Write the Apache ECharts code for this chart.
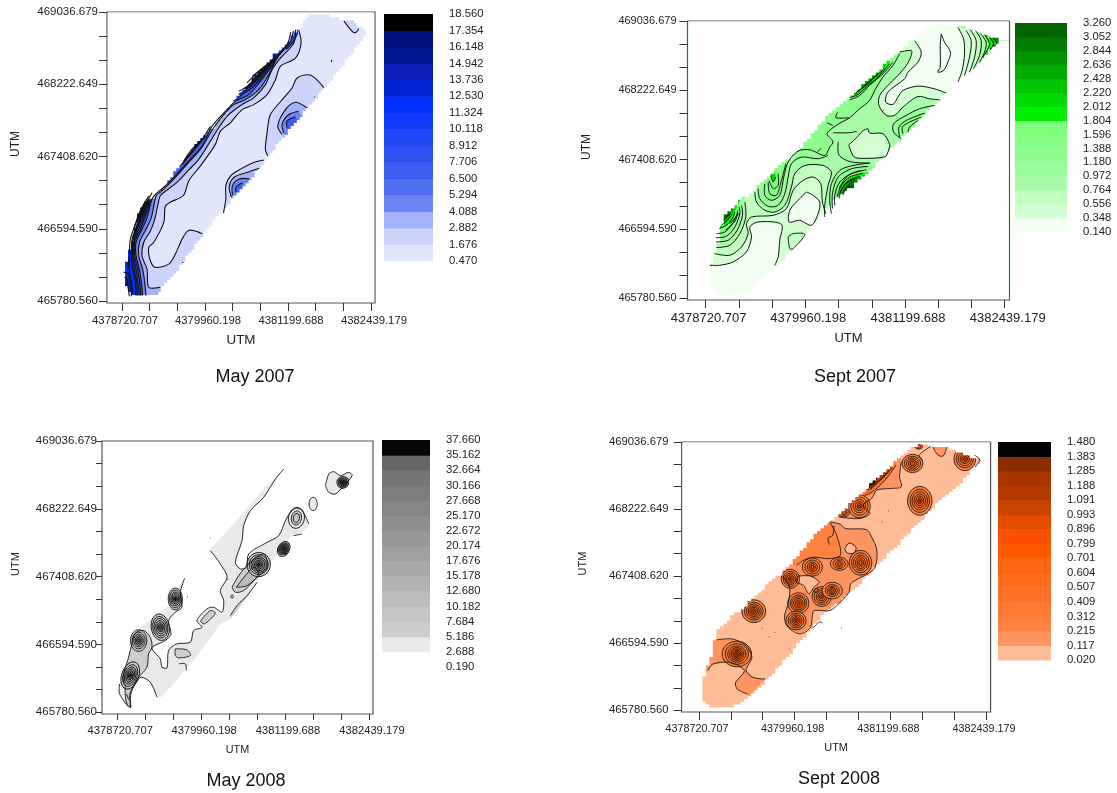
<!DOCTYPE html>
<html><head><meta charset="utf-8">
<style>html,body{margin:0;padding:0;background:#fff}#c{width:1117px;height:793px}</style>
<script src="https://cdn.jsdelivr.net/npm/echarts@6/dist/echarts.min.js"></script>
</head><body><div id="c"></div>
<script>
// Map coordinates: every point below is [metres east, metres north] of the first labelled ticks.
const E0 = 4378720.707, N0 = 465780.56;
const xTicks = [4378720.707,4379133.87,4379547.03,4379960.198,4380373.36,4380786.53,4381199.688,4381612.85,4382026.02,4382439.179];
const xLabels = [4378720.707,4379960.198,4381199.688,4382439.179];
const yTicks = [465780.56,466051.9,466323.24,466594.59,466865.93,467137.28,467408.62,467679.96,467951.31,468222.649,468493.99,468765.34,469036.679];
const yLabels = [465780.56,466594.59,467408.62,468222.649,469036.679];

// Survey outline, upper and lower edges
const edgeUpperWide = [156,31,48,137,35,274,69,411,113,547,178,723,221,958,437,1153,589,1251,740,1408,957,1584,1087,1681,1303,1896,1433,2072,1671,2268,1910,2463,2213,2737,2494,2972,2732,3187,2862,3226,3209,3187,3425,3108,3650,3030];
const edgeLowerWide = [156,31,394,39,567,98,805,293,1087,587,1325,860,1606,1153,1823,1310,2126,1584,2299,1760,2559,1994,2862,2287,3122,2542,3382,2757,3650,3030];
const edgeUpperMay07 = [150,60,100,123,35,217,35,348,75,460,115,591,175,722,215,853,225,965,325,1096,525,1190,650,1302,775,1451,950,1582,1125,1788,1375,1956,1625,2199,1825,2386,2050,2592,2250,2760,2475,2928,2700,3134,2800,3228,3015,3228,3175,3190,3425,3153,3665,3030];
const edgeLowerMay07 = [150,60,500,60,575,142,775,292,975,516,1275,815,1525,1058,1850,1302,2125,1582,2425,1862,2775,2180,3075,2461,3325,2685,3665,3030];

// ---- May 2007
const levelsMay07 = [0.47,1.676,2.882,4.088,5.294,6.5,7.706,8.912,10.118,11.324,12.53,13.736,14.942,16.148,17.354,18.56];
const colorsMay07 = ['#e1e6fb','#ccd4fb','#a4b2fb','#6b85f5','#5070f0','#3f5cf0','#2f50f2','#1f46f5','#0f3cfa','#0030ff','#0024d0','#0a1fb8','#001a94','#00107c','#000000'];
const bandsMay07 = [
 [1,[2639,3055,2674,2905,2590,2737,2365,2644,2291,2494,2166,2326,1967,2213,1793,2157,1618,2008,1469,1914,1394,1765,1170,1522,1000,1358,915,1189,725,1115,647,1071,622,884,473,660,398,604,423,454,498,379,697,416,796,529,900,703,1000,797,1200,759],[1375,703,600,0,-100,0,-100,1150,1200,2100,2700,3300]],
 [1,[2175,1638,2141,1709,2166,1896,2216,2101,2415,2288,2540,2400,2614,2513,2789,2550,2875,2517,3015,2405],[3100,2200,2300,1500]],
 [1,[1515,994,1550,1152,1550,1302,1625,1414,1775,1489,1975,1563,2125,1589],[2150,1400,1600,900]],
 [1,[3315,3153,3450,3030,3500,3030,3535,3067],[3500,3250,3300,3250]],
 [2,[2589,3055,2565,2905,2365,2737,2241,2606,2141,2438,1967,2288,1793,2214,1579,2090,1444,1952,1320,1802,1145,1596,1000,1480,825,1340,575,1190,547,1127,488,921,423,790,323,660,298,510,373,360,398,155,572,155],[572,0,-200,0,-200,1150,1200,2100,2589,3300]],
 [3,[2560,3040,2515,2924,2440,2849,2316,2737,2191,2550,2042,2382,1843,2270,1668,2213,1544,2120,1369,1952,1175,1713,975,1545,775,1376,575,1227,508,1183,438,940,358,809,259,660,249,510,308,360,338,211,358,61],[300,0,-200,0,-200,1200,1200,2150,2560,3300]],
 [5,[2520,3030,2475,2905,2341,2775,2216,2625,2067,2475,1892,2326,1693,2251,1593,2176,1345,1970,1200,1750,1000,1582,800,1414,625,1283,458,1164,373,940,298,809,209,660,209,510,259,360,288,211,308,61],[260,0,-200,0,-200,1200,1200,2200,2520,3300]],
 [7,[423,1153,323,940,259,828,174,660,174,510,209,360,239,211,259,61],[225,0,-200,0,-200,1150,450,1300]],
 [9,[388,1146,288,959,224,847,149,678,139,510,159,360,199,211,209,61],[175,0,-200,0,-200,1150,430,1300]],
 [10,[358,1127,259,977,199,865,124,697,109,529,109,379],[-200,379,-200,1150,420,1300]],
 [10,[25,323,89,315,124,229,139,54],[-200,54,-200,323]],
 [12,[39,267,74,248,89,155,109,54],[-200,54,-200,267]],
 [11,[448,1221,338,1071,259,940,199,809,149,697],[-200,697,-200,1150,500,1300]],
 [12,[398,1183,298,1052,224,921,174,809],[-200,809,-200,1150,500,1300]],
 [14,[348,1127,274,1015,224,940],[-100,940,-100,1150,450,1300]],
 [7,[1320,1970,1195,1821,1071,1709,921,1559],[700,1900,1300,2050]],
 [10,[1245,1858,1145,1765,1021,1652,896,1540],[700,1900,1300,2050]],
 [12,[1220,1839,1095,1727,971,1615,871,1522],[700,1900,1300,2050]],
 [13,[1145,1783,1021,1690,921,1578],[700,1900,1200,2000]],
 [7,[2390,2831,2266,2681,2141,2569,1967,2419,1793,2326,1668,2251],[1600,2700,2400,3000]],
 [10,[2341,2793,2216,2662,2067,2531,1917,2419,1743,2326],[1600,2700,2350,3000]],
 [12,[2291,2756,2166,2644,2017,2531,1867,2419,1743,2363],[1600,2700,2300,3000]],
 [13,[2241,2700,2141,2644,1992,2550,1867,2457],[1600,2700,2250,2950]],
 [14,[2191,2681,2067,2606,1942,2531],[1700,2700,2200,2900]],
 [7,[2625,3022,2550,2910,2450,2835],[2300,2950,2650,3200]],
 [2,[2390,1877,2326,1970,2440,2157,2589,2240,2764,2176],[2850,2000,2500,1750]],
 [3,[2415,1896,2390,1989,2490,2101,2639,2139],[2800,1950,2500,1750]],
 [5,[2465,1952,2465,2027,2589,2075],[2700,1950,2500,1800]],
 [2,[1635,1170,1600,1283,1675,1395,1875,1451,2050,1496],[2050,1300,1700,1050]],
 [3,[1650,1190,1650,1302,1750,1376,1900,1376],[1900,1250,1700,1100]],
 [5,[1700,1227,1700,1283,1800,1332],[1800,1200,1720,1150]]
];
const linesMay07 = [
 [3130,2715,3130,2690],[2870,2300,2880,2298],[900,440,915,430],
 [2280,2720,2140,2610,1990,2490,1840,2390],[2220,2670,2090,2590,1960,2500],
 [1180,1800,1060,1700,950,1590],[330,1040,260,900,200,780],[410,1120,300,980,230,850,160,700],[95,470,105,350,140,220,160,80],
 [440,1150,345,950,280,820,190,665,190,510,232,360,262,211,282,61],[405,1150,305,950,240,838,160,670,155,510,182,360,218,211,232,61]
];
const peaksMay07 = [];

// ---- Sept 2007
const levelsSep07 = [0.14,0.348,0.556,0.764,0.972,1.18,1.388,1.596,1.804,2.012,2.22,2.428,2.636,2.844,3.052,3.26];
const colorsSep07 = ['#f2fff2','#d4ffd4','#c0ffc0','#a8fca8','#98fc98','#8efd8e','#86fe86','#7cff7c','#00f000','#00dc00','#00c400','#00ac00','#009400','#007c00','#006400'];
const bandsSep07 = [
 [2,[612,1247,633,1129,736,1032,860,1012,985,1090,1067,1305,1109,1462,1233,1559,1461,1559,1564,1481,1523,1325,1481,1090,1481,953],[1600,900,500,-20,-200,-20,-200,1240]],
 [1,[115,523,301,504,446,601,529,758,508,875,571,953,840,973,1005,1051,1088,1266,1212,1383,1336,1423,1432,1344,1452,1129,1494,992],[1780,762,500,-20,-200,-20,-200,410]],
 [0,[53,386,177,386,343,426,508,543,571,719,550,836,653,895,943,867,922,680,902,484,860,386],[900,100,300,-20,-200,-20,-200,386]],
 [0,[1254,1247,1129,1129,1047,1032,1038,895,1171,914,1316,856,1399,992,1419,1129,1336,1208,1254,1247],[]],
 [2,[1026,719,1088,758,1233,750,1088,582,1047,582,1026,719],[]],
 [4,[653,1286,674,1168,778,1078,902,1090,985,1227,1026,1423,1067,1579,1191,1657,1399,1638,1523,1677],[1560,1800,1000,1900,560,1300]],
 [5,[2412,2870,2329,2733,2205,2596,2114,2459,2039,2323,1915,2225,1791,2119,1650,2044,1511,1935,1585,1837,1543,1775,1481,1677,1295,1743,1150,1728,1026,1599,972,1423,922,1208,819,1149,736,1208,736,1344],[650,1500,1347,2326,1996,2717,2412,3000]],
 [6,[778,1364,798,1227,881,1208,943,1384,997,1579],[900,1600]],
 [7,[790,1383,840,1286,902,1325,902,1462],[840,1480]],
 [9,[811,1442,840,1364,873,1423],[860,1500,800,1500]],
 [1,[1780,1798,1888,1896,1950,1960,2019,1990,2039,1939,2205,1932,2288,1806,2267,1717,2234,1661,1953,1642,1845,1661,1780,1798],[]],
 [1,[2412,2890,2557,2909,2557,2850,2495,2733,2391,2616,2267,2499,2164,2381,2155,2264,2246,2147,2350,2147,2453,2244,2640,2369,2785,2342,2909,2330],[3208,2561,3700,3000,3000,3300,2400,3000]],
 [0,[2598,3026,2681,2890,2640,2772,2516,2655,2474,2577,2267,2420,2238,2303,2329,2276,2391,2362,2453,2440,2640,2491,2847,2459,2992,2409],[3137,2538,3190,2675,3219,2870,3207,3046,3137,3183,3000,3300,2450,3300,2500,3050]],
 [1,[3240,3144,3302,3026,3281,2831,3219,2616],[3500,2600,3770,3030,3500,3300]],
 [2,[3290,3152,3364,3026,3344,2831,3281,2655],[3500,2600,3770,3030,3500,3300]],
 [3,[3356,3144,3426,3026,3406,2851,3331,2694],[3500,2600,3770,3030,3500,3300]],
 [5,[3414,3112,3488,3007,3468,2889,3406,2772],[3500,2600,3770,3030,3500,3300]],
 [8,[3468,3097,3530,2987,3497,2909,3447,2831],[3500,2700,3770,3030,3500,3300]],
 [10,[3522,3073,3579,2987,3530,2909],[3600,2800,3770,3030,3500,3300]],
 [12,[3571,3058,3621,2995,3579,2956],[3700,2900,3770,3030,3600,3200]],
 [6,[2329,2772,2226,2655,2039,2499,1915,2381,1791,2330],[1700,2500,2300,2950]],
 [8,[2288,2753,2164,2616,1998,2479,1895,2393,1791,2354],[1700,2500,2300,2950]],
 [9,[2226,2694,2102,2596,1977,2499,1853,2393],[1700,2500,2300,2950]],
 [11,[2143,2635,2019,2518,1874,2420],[1700,2500,2200,2900]],
 [3,[136,594,301,621,426,758,500,953,488,1129],[500,1300,-200,1000,-200,560]],
 [4,[128,660,281,680,392,797,459,973,446,1090],[500,1300,-200,1000,-200,560]],
 [5,[128,711,260,727,364,836,426,993,417,1071],[500,1300,-200,1000,-200,560]],
 [7,[136,758,239,777,335,875,392,993],[500,1300,-200,1000,-200,560]],
 [8,[169,817,260,856,335,934,364,1012],[500,1300,-200,1000,-200,560]],
 [10,[198,856,268,914,322,973],[500,1300,-200,1000,-200,560]],
 [12,[227,914,281,961,310,1000],[500,1300,-200,1000,-200,560]],
 [13,[252,946,293,992],[500,1300,-200,1000,-200,560]],
 [4,[2040,1587,1833,1559,1668,1501,1564,1344,1543,1149,1564,993],[1650,1000,2150,1500]],
 [5,[2020,1548,1813,1520,1647,1423,1577,1227,1577,1051],[1650,1000,2150,1500]],
 [7,[1999,1509,1813,1462,1668,1364,1606,1208,1606,1090],[1650,1000,2150,1500]],
 [8,[1957,1470,1792,1423,1688,1325,1634,1188],[1650,1000,2150,1500]],
 [10,[1916,1430,1771,1376,1688,1274,1659,1168],[1680,1100,2100,1500]],
 [12,[1854,1384,1750,1313,1701,1227],[1700,1100,2000,1450]],
 [14,[1792,1325,1730,1266,1709,1208],[1720,1150,1900,1380]],
 [4,[2433,1873,2337,1951,2337,2049,2495,2147,2660,2225,2847,2264],[2800,2150,2400,1800]],
 [5,[2412,1892,2404,2010,2495,2088,2722,2174],[2800,2150,2400,1800]],
 [6,[2453,1932,2445,2010,2536,2068,2681,2127],[2700,2050,2450,1850]],
 [7,[2516,1951,2536,2010,2640,2088],[2640,2030,2520,1920]]
];
const linesSep07 = [
 [2930,3105,2971,3007,3045,2889,3012,2772,2958,2674,2888,2655,2917,2714,2917,2968,2930,3105],
 [3137,3183,3207,3046,3219,2870,3190,2675,3137,2538],
 [1650,1837,1658,1681,1801,1603,2040,1587],
 [1585,1943,1780,1943,1880,1960],
 [1640,2180,1620,2120,1780,2120],[1510,2060,1580,2030],
 [1930,1500,1770,1440,1660,1290],[1880,1410,1740,1340,1670,1240],
 [1390,1720,1440,1760],[2206,2210,2216,2205],
 [300,870,420,1000],[250,800,370,910,400,1030]
];
const peaksSep07 = [];

// ---- May 2008 (lowest band is left white)
const levelsMay08 = [0.19,2.688,5.186,7.684,10.182,12.68,15.178,17.676,20.174,22.672,25.17,27.668,30.166,32.664,35.162,37.66];
const colorsMay08 = ['#ffffff','#e9e9e9','#cdcdcd','#c5c5c5','#bcbcbc','#b3b3b3','#a9a9a9','#a0a0a0','#979797','#8e8e8e','#868686','#7d7d7d','#757575','#666666','#060606'];
const bandsMay08 = [
 [1,[168,60,35,220,35,340,118,540,217,760,266,960,587,1180,735,1260,784,1320,858,1460,996,1608,932,1440,956,1260,858,1200,759,1100,794,940,710,860,513,772,636,640,661,540,735,532,759,740,882,820,1080,840,1129,980,1252,1020,1178,1100,1326,1240,1425,1260,1548,1200,1573,1340,1523,1460,1622,1620,1523,1780,1375,1940],[1375,1960,1721,2260,1967,2500,2214,2720,2460,2920,2337,2800,2164,2580,1967,2420,1868,2240,1844,2060,1745,1800,1819,1720,1908,1740,1942,1900,2214,2040,2386,2120,2509,2340,2633,2452,2731,2420,2830,2260,2830,2240,2731,2160,2559,2100,2214,1740,1918,1380,1671,1120,1523,1060,1129,620,833,340,636,172,587,180,488,360,350,420,266,340,202,220,192,48]],
 [1,[3076,2720,3126,2860,3200,2888,3298,2840,3421,2880,3470,2840,3347,2720,3224,2620,3126,2640,3076,2720],[]],
 [2,[118,320,84,420,168,660,217,820,266,948,389,980,488,900,513,780,463,700,439,540,316,420,242,320,182,200,202,60,143,100,118,220,118,320],[]],
 [2,[1671,1160,1780,1290,1918,1400,2066,1560],[2100,1600,1918,1380,1671,1120]],
 [2,[1696,1500,1795,1640,1942,1780,2164,1900,2214,1740,2066,1620,1868,1460,1745,1440,1696,1500],[]],
 [4,[1760,1500,1893,1640,2016,1740,2090,1660,1918,1520,1760,1500],[]],
 [2,[1228,1092,1375,1220,1449,1188,1287,1060,1228,1092],[]],
 [2,[858,760,1030,748,1080,680,908,652,858,680,858,760],[]]
];
const linesMay08 = [
 [168,60,35,220,35,340],[996,1608,932,1440,956,1260,858,1200,759,1100,794,940,710,860,513,772,636,640,661,540,735,532,759,740,882,820,1080,840,1129,980,1252,1020,1178,1100,1326,1240,1425,1260,1548,1200,1573,1340,1523,1460,1622,1620,1523,1780,1375,1940],
 [2460,2920,2337,2800,2164,2580,1967,2420,1868,2240,1844,2060,1745,1800,1819,1720,1908,1740,1942,1900,2214,2040,2386,2120,2509,2340,2633,2452,2731,2420,2830,2260],
 [587,180,488,360,350,420,266,340,202,220,192,48],
 [2608,2120,2731,2140],[909,580,1006,580,1021,500],[1030,1380,1045,1390],
 [1375,2090,1385,2090],[1630,1590,1640,1600],[2200,1720,2215,1730],[135,220,170,150]
];
const peaksMay08 = [
 [192,440,-20,[[125,170,2],[100,135,4],[80,105,6],[60,80,8],[42,55,10],[28,35,12],[14,18,14]]],
 [316,860,0,[[120,130,2],[95,100,4],[70,75,6],[50,55,9],[32,36,12],[15,18,13]]],
 [636,1020,10,[[133,160,2],[110,130,3],[88,105,4],[65,80,6],[45,55,8],[28,35,11],[14,18,13]]],
 [858,1360,0,[[105,130,3],[85,105,5],[65,80,7],[48,60,9],[30,38,12],[15,20,14]]],
 [2090,1772,-10,[[172,145,2],[140,118,4],[112,95,6],[88,75,8],[62,55,10],[40,35,12],[20,18,14]]],
 [2460,1960,-30,[[85,95,2],[70,75,5],[55,60,8],[40,45,10],[25,30,13],[12,16,14]]],
 [2647,2332,-10,[[118,125,1],[75,85,2],[45,55,3]]],
 [3333,2760,30,[[90,70,2],[70,55,4],[52,42,7],[38,30,10],[24,20,12],[12,10,14]]],
 [2894,2500,0,[[60,80,1]]],
 [1696,1388,0,[[20,18,1]]]
];

// ---- Sept 2008
const levelsSep08 = [0.02,0.117,0.215,0.312,0.409,0.507,0.604,0.701,0.799,0.896,0.993,1.091,1.188,1.285,1.383,1.48];
const colorsSep08 = ['#ffbc96','#ff9460','#ff8240','#ff7a33','#ff7226','#ff6c1c','#ff6410','#ff5a00','#fa5000','#e64c00','#c84200','#b43a00','#a83500','#8a2e00','#000000'];
const bandsSep08 = [
 [1,[226,853,429,865,610,784,687,642,633,540,610,479,701,398,859,378],[633,154,633,195,497,256,475,337,588,479,407,581,181,560,113,479,-100,560,-100,850]],
 [1,[1695,2286,1831,2257,1898,2205,2170,2193,2237,2103,2305,1941,2283,1738,2192,1657,2102,1616,1966,1535,1944,1433,1808,1291,1695,1210,1492,1210,1469,1149,1446,1007,1311,926,1153,1007,1107,1129,1153,1291,1175,1494,1076,1636],[1000,1800,1700,2400]],
 [2,[1695,2286,1785,2123,1831,1880,1672,1839,1492,1858,1356,1819,1266,1758],[1000,1800,1400,2200]],
 [0,[1288,1628,1446,1628,1559,1555,1492,1494,1424,1413,1356,1515,1266,1555,1288,1628],[]],
 [0,[1889,1961,1944,2030,2034,1981,2011,1908,1921,1908,1889,1961],[]],
 [1,[3028,3199,3096,3098,3164,3086,3209,3191],[3100,3300]],
 [1,[2622,3017,2599,2834,2622,2712,2486,2692,2305,2672,2237,2570,2124,2489,2215,2388,2079,2327,1808,2347],[1700,2500,2600,3100]],
 [4,[2554,2976,2463,2854,2350,2732,2215,2631,2147,2610],[2100,2800,2500,3100]],
 [8,[2509,2948,2419,2854,2305,2753,2215,2671],[2100,2800,2500,3100]],
 [11,[2463,2915,2373,2814,2283,2745,2224,2692],[2100,2800,2500,3100]],
 [14,[2283,2761,2215,2720,2192,2671],[2100,2800,2350,2900]]
];
const linesSep08 = [
 [633,195,497,256,475,337,588,479,407,581,181,560,113,479],
 [3571,3098,3639,3037,3571,2948],
 [3006,3207,2902,3138,2850,3090,2900,3030],
 [1750,2240,1730,2120,1670,2090,1690,2010],
 [815,995,825,990],[905,890,915,885],[980,945,990,945],[1165,745,1175,740],[2450,2420,2460,2418],[2370,2290,2380,2285],
 [1480,1000,1560,1070,1600,1060],[1490,1460,1530,1480,1540,1440,1500,1430,1490,1460],[1840,1000,1850,995]
];
const peaksSep08 = [
 [490,682,0,[[190,155,2],[150,125,3],[118,98,5],[92,78,6],[70,60,7],[50,42,8],[32,28,7],[15,14,8]]],
 [710,1202,0,[[154,138,2],[120,108,3],[95,85,4],[72,65,5],[52,47,6],[32,30,7],[14,13,9]]],
 [1288,1299,0,[[136,126,2],[105,98,3],[85,78,4],[62,58,6],[40,38,7],[18,18,9]]],
 [1257,1088,0,[[130,112,2],[100,88,3],[75,68,5],[52,48,6],[32,30,7],[14,14,9]]],
 [1184,1595,0,[[118,115,2],[92,90,3],[70,68,5],[48,48,6],[28,28,8],[12,12,9]]],
 [1591,1380,0,[[125,120,2],[98,95,3],[72,72,5],[50,50,6],[28,28,8],[12,12,6]]],
 [1727,1453,0,[[130,100,2],[90,72,3],[65,52,5],[42,36,7],[22,20,9]]],
 [1469,1738,0,[[130,110,2],[95,85,3],[65,60,5],[40,40,6],[20,22,8]]],
 [1817,1778,0,[[115,80,2],[80,58,3],[50,40,5],[25,22,8]]],
 [2093,1790,0,[[145,150,2],[115,120,3],[90,92,4],[65,70,5],[42,46,6],[22,26,8]]],
 [2079,2477,0,[[140,140,2],[110,110,3],[80,80,4],[55,55,6],[30,32,8],[12,14,10]]],
 [2861,2542,0,[[158,175,2],[125,140,3],[100,110,4],[75,82,5],[52,58,6],[30,34,8],[12,15,10]]],
 [2766,2996,0,[[135,110,2],[105,85,3],[78,65,5],[52,45,7],[28,25,9]]],
 [3444,3049,0,[[140,140,2],[110,105,3],[85,80,4],[60,55,5],[38,36,7],[18,18,9]]],
 [1876,2395,0,[[70,50,2],[45,30,4],[20,18,6]]],
 [2848,3200,0,[[50,30,2],[30,18,4]]]
];

const E_MIN = E0-225, E_MAX = E0+3718.472+60, N_MIN = N0-22, N_MAX = 469036.679;

const panels = [
 {title:'May 2007',tx:255,ty:376,grid:[107,12,268,291],leg:[384,14,49,247],lab:[11.5,11.3],yMargin:9,xMargin:12,xGap:31,yGap:85,yFont:12,xFont:13.4,tick:8,xPad:[0,0,0,6],lw:1.1,
  levels:levelsMay07,colors:colorsMay07,bands:bandsMay07,lines:linesMay07,peaks:peaksMay07,upper:edgeUpperMay07,lower:edgeLowerMay07,base:0},
 {title:'Sept 2007',tx:855,ty:376,grid:[687.5,21,322,279],leg:[1015,23,52,209],lab:[11,13],yMargin:11,xMargin:12,xGap:32,yGap:95,yFont:12,xFont:13,tick:8,xPad:[0,0,0,6],lw:1,
  levels:levelsSep07,colors:colorsSep07,bands:bandsSep07,lines:linesSep07,peaks:peaksSep07,upper:edgeUpperWide,lower:edgeLowerWide,base:3},
 {title:'May 2008',tx:246,ty:780,grid:[102,441,271,273],leg:[382,440,48,227],lab:[11.6,11.2],yMargin:5,xMargin:11,xGap:31,yGap:81,yFont:11,xFont:10.8,tick:6,xPad:[0,0,0,6],lw:0.9,
  levels:levelsMay08,colors:colorsMay08,bands:bandsMay08,lines:linesMay08,peaks:peaksMay08,upper:null,lower:null,base:null},
 {title:'Sept 2008',tx:839,ty:778,grid:[681.6,442,309,270],leg:[998,442,53,218],lab:[11.3,10.8],yMargin:13,xMargin:12,xGap:30,yGap:93,yFont:11,xFont:11,tick:8,xPad:[0,4,0,0],lw:0.85,
  levels:levelsSep08,colors:colorsSep08,bands:bandsSep08,lines:linesSep08,peaks:peaksSep08,upper:edgeUpperWide,lower:edgeLowerWide,base:0}
];

const FONT = '"Liberation Sans", Arial, sans-serif';
const pairs = a => { const o=[]; for(let i=0;i<a.length;i+=2) o.push([a[i],a[i+1]]); return o; };

// The contouring grid gives the outline its stepped edge: walk the edge in grid cells
function stepped(flat){
 const dE=45, dN=34, pts=pairs(flat), out=[];
 for(let i=0;i<pts.length-1;i++){
  const a=pts[i], b=pts[i+1], n=Math.max(2,Math.ceil(Math.hypot((b[0]-a[0])/dE,(b[1]-a[1])/dN)*2));
  for(let k=0;k<n;k++){
   const s=[Math.round((a[0]+(b[0]-a[0])*k/n)/dE)*dE, Math.round((a[1]+(b[1]-a[1])*k/n)/dN)*dN];
   const l=out[out.length-1];
   if(!l){out.push(s);continue;}
   if(l[0]!==s[0]||l[1]!==s[1]){ if(l[0]!==s[0]&&l[1]!==s[1]) out.push([s[0],l[1]]); out.push(s); }
  }
 }
 out.push(pts[pts.length-1]);
 return out;
}

function layersOf(p,idx){
 const L=[], eL=-212, eR=3765, nB=-10, nT=3245;
 const inFrame=q=>[Math.min(eR,Math.max(eL,q[0])),Math.min(nT,Math.max(nB,q[1]))];
 if(p.base!==null) L.push({k:'fill',pts:[[eL,nB],[eR,nB],[eR,nT],[eL,nT]],c:p.colors[p.base]});
 p.bands.forEach(b=>L.push({k:'fill',pts:pairs(b[1].concat(b[2])).map(inFrame),c:p.colors[b[0]]}));
 p.peaks.forEach(q=>q[3].forEach(r=>L.push({k:'ell',e:q[0],n:q[1],rot:q[2],rx:r[0],ry:r[1],c:p.colors[r[2]]})));
 if(p.upper){
  const up=stepped(p.upper), lo=stepped(p.lower), tip=up[up.length-1], st=up[0];
  L.push({k:'fill',pts:up.concat([[eR,tip[1]],[eR,nT+6],[eL,nT+6],[eL,nB],[st[0],nB]]),c:'#ffffff'});
  L.push({k:'fill',pts:lo.concat([[eR,tip[1]],[eR,nB],[st[0],nB]]),c:'#ffffff'});
 }
 p.bands.forEach((b,i)=>{ if(!(idx===2&&i===0)) L.push({k:'line',pts:pairs(b[1])}); });
 p.lines.forEach(l=>L.push({k:'line',pts:pairs(l)}));
 return L;
}

const option = {animation:false,backgroundColor:'#fff',title:[],grid:[],xAxis:[],yAxis:[],series:[]};

panels.forEach((p,i)=>{
 const [gx,gy,gw,gh]=p.grid;
 option.title.push({text:p.title,left:p.tx,top:p.ty-8,padding:0,textAlign:'center',textStyle:{fontFamily:FONT,fontSize:18,fontWeight:'normal',color:'#111'}});
 option.grid.push({left:gx,top:gy,width:gw,height:gh,show:true,borderColor:'#555',borderWidth:1.2,backgroundColor:'#fff'});
 const tickStyle={show:true,length:p.tick,lineStyle:{color:'#333',width:1}};
 const fmt=v=>Number(v).toFixed(3);
 option.xAxis.push({type:'value',gridIndex:2*i,min:E_MIN,max:E_MAX,splitLine:{show:false},axisLine:{show:false,onZero:false},
  axisTick:Object.assign({customValues:xTicks},tickStyle),
  axisLabel:{customValues:xLabels,formatter:fmt,margin:p.xMargin,padding:p.xPad,fontFamily:FONT,fontSize:p.lab[1],color:'#222',hideOverlap:false},
  name:'UTM',nameLocation:'middle',nameGap:p.xGap,nameTextStyle:{fontFamily:FONT,fontSize:p.xFont,color:'#222'}});
 option.yAxis.push({type:'value',gridIndex:2*i,min:N_MIN,max:N_MAX,splitLine:{show:false},axisLine:{show:false,onZero:false},
  axisTick:Object.assign({customValues:yTicks},tickStyle),
  axisLabel:{customValues:yLabels,formatter:fmt,margin:p.yMargin,fontFamily:FONT,fontSize:p.lab[0],color:'#222',hideOverlap:false},
  name:'UTM',nameLocation:'middle',nameGap:p.yGap,nameTextStyle:{fontFamily:FONT,fontSize:p.yFont,color:'#222',padding:[0,0,0,27]}});
 const layers=layersOf(p,i);
 option.series.push({type:'custom',xAxisIndex:2*i,yAxisIndex:2*i,coordinateSystem:'cartesian2d',clip:true,silent:true,
  data:layers.map((_,k)=>[E0,N0,k]),encode:{x:0,y:1},
  renderItem:(params,api)=>{
   const l=layers[params.dataIndex], C=q=>api.coord([E0+q[0],N0+q[1]]);
   if(l.k==='fill') return {type:'polygon',shape:{points:l.pts.map(C)},style:{fill:l.c,stroke:null}};
   if(l.k==='line') return {type:'polyline',shape:{points:l.pts.map(C),smooth:0.3},style:{fill:null,stroke:'#111',lineWidth:p.lw}};
   const c=C([l.e,l.n]), s=api.size([l.rx,l.ry]);
   return {type:'ellipse',originX:c[0],originY:c[1],rotation:l.rot*Math.PI/180,shape:{cx:c[0],cy:c[1],rx:s[0],ry:s[1]},style:{fill:l.c,stroke:'#111',lineWidth:p.lw}};
  }});

 // colour bar: one rectangle per band between consecutive levels
 const [lx,ly,lw,lh]=p.leg;
 option.grid.push({left:lx,top:ly,width:lw,height:lh,show:false});
 option.xAxis.push({type:'value',gridIndex:2*i+1,min:0,max:1,show:false});
 option.yAxis.push({type:'value',gridIndex:2*i+1,min:p.levels[0],max:p.levels[15],position:'right',splitLine:{show:false},axisLine:{show:false},axisTick:{show:false},
  axisLabel:{customValues:p.levels,formatter:fmt,margin:16,fontFamily:FONT,fontSize:11.3,color:'#222',hideOverlap:false,showMinLabel:true,showMaxLabel:true}});
 option.series.push({type:'custom',xAxisIndex:2*i+1,yAxisIndex:2*i+1,coordinateSystem:'cartesian2d',silent:true,
  data:p.colors.map((c,k)=>[p.levels[k],p.levels[k+1]]),encode:{y:[0,1]},
  renderItem:(params,api)=>{
   const a=api.coord([0,api.value(1)]), b=api.coord([1,api.value(0)]);
   return {type:'rect',shape:{x:a[0],y:a[1],width:b[0]-a[0],height:b[1]-a[1]+0.5},style:{fill:p.colors[params.dataIndex],stroke:null}};
  }});
});

echarts.init(document.getElementById('c'),null,{renderer:'canvas'}).setOption(option);
</script>
</body></html>
